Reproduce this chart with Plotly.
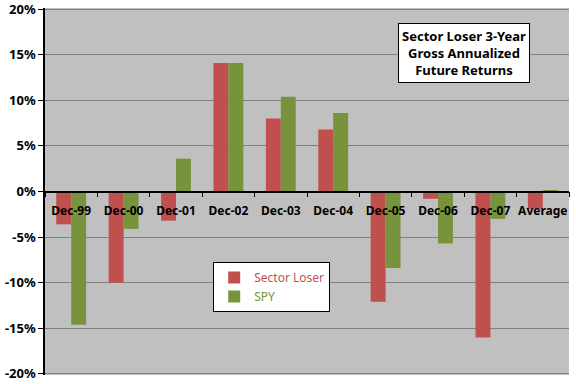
import plotly.graph_objects as go

categories = ["Dec-99", "Dec-00", "Dec-01", "Dec-02", "Dec-03", "Dec-04",
              "Dec-05", "Dec-06", "Dec-07", "Average"]
sector_loser = [-3.6, -10.0, -3.2, 14.1, 8.0, 6.8, -12.1, -0.8, -16.0, -1.9]
spy = [-14.6, -4.1, 3.6, 14.1, 10.4, 8.6, -8.4, -5.7, -3.0, 0.1]
y_ticks = [-20, -15, -10, -5, 0, 5, 10, 15, 20]
y_tick_labels = [f"{v}%" for v in y_ticks]

RED = "#C0504D"
GREEN = "#77933C"
FONT = "Noto Sans, DejaVu Sans, sans-serif"

fig = go.Figure()
fig.add_trace(go.Bar(x=categories, y=sector_loser, marker_color=RED,
                     marker_line_width=0,
                     name=f"<span style='color:{RED}'>Sector Loser</span>"))
fig.add_trace(go.Bar(x=categories, y=spy, marker_color=GREEN,
                     marker_line_width=0,
                     name=f"<span style='color:{GREEN}'>SPY</span>"))

fig.update_layout(
    width=576, height=384,
    margin=dict(l=45, r=7, t=8, b=9),
    paper_bgcolor="white", plot_bgcolor="#C0C0C0",
    barmode="group", bargap=0.43, bargroupgap=0,
    font=dict(family=FONT, size=12, color="black"),
    showlegend=True,
    legend=dict(x=0.321, y=0.308, xanchor="left", yanchor="top",
                bgcolor="white", bordercolor="black", borderwidth=1,
                font=dict(family=FONT, size=12),
                itemwidth=30, tracegroupgap=0),
    xaxis=dict(anchor="free", position=0.5,
               showline=True, linecolor="black", linewidth=1.5,
               ticks="outside", tickson="boundaries", ticklen=5, tickcolor="black",
               tickangle=0, automargin=False, ticklabelstandoff=8,
               ticklabeloverflow="allow",
               tickfont=dict(family=FONT, size=12, color="black", weight="bold"),
               showgrid=False, zeroline=False),
    yaxis=dict(range=[-20.12, 20.12], tickvals=y_ticks, ticktext=y_tick_labels,
               showline=True, linecolor="black", linewidth=1.5,
               ticks="outside", ticklen=5, tickcolor="black", automargin=False,
               ticklabeloverflow="allow",
               tickfont=dict(family=FONT, size=13, color="black", weight="bold"),
               showgrid=True, gridcolor="#808080", gridwidth=1.2,
               zeroline=False),
)
fig.add_annotation(
    xref="paper", yref="paper", x=0.80, y=0.959, xanchor="center", yanchor="top",
    text="<b>Sector Loser 3-Year<br>Gross Annualized<br>Future Returns</b>",
    showarrow=False, align="center",
    font=dict(family=FONT, size=13, color="black"),
    bgcolor="white", bordercolor="black", borderwidth=1, borderpad=3,
)
fig.write_html("out.html", config={"displayModeBar": False},
               post_script="document.body.style.margin='0';")
